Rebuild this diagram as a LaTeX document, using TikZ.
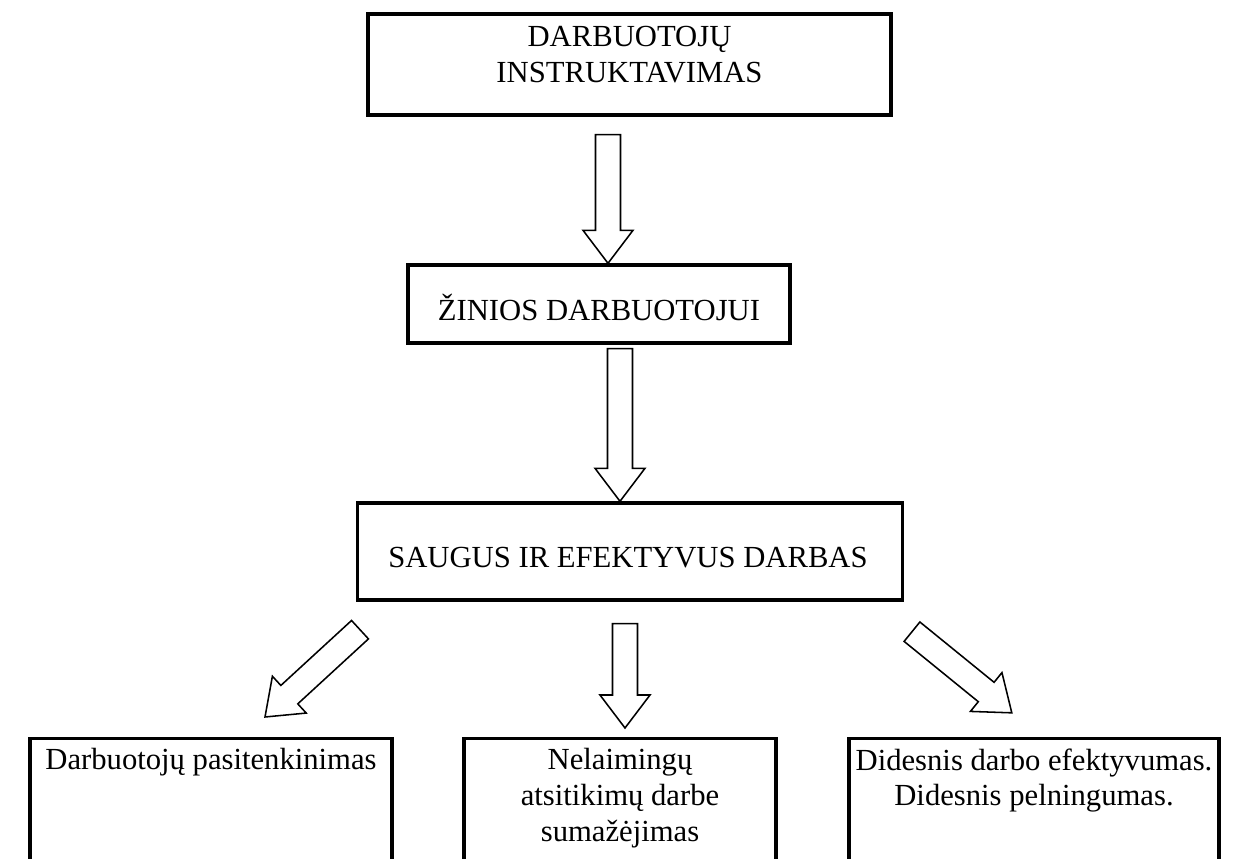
\documentclass[tikz,border=0pt]{standalone}
\usepackage{fontspec}
\setmainfont{Liberation Serif}
\usetikzlibrary{positioning,calc}

\tikzset{
	box/.style={draw,line width=2.4pt,minimum width=#1,inner sep=0pt},
	txt/.style={align=center,inner sep=0pt},
	hollow/.style={draw,line width=1.1pt,fill=white,line join=miter},
}

% hollow block arrow from #1 to #2
\newcommand{\blockarrow}[2]{%
	\path let \p1=(#1), \p2=(#2), \n1={atan2(\y2-\y1,\x2-\x1)}, \n2={veclen(\x2-\x1,\y2-\y1)} in
		[hollow,shift={(\p1)},rotate=\n1]
		(0,-0.3125cm) -- ({\n2-0.825cm},-0.3125cm) -- ({\n2-0.825cm},-0.625cm)
		-- ({\n2},0) -- ({\n2-0.825cm},0.625cm) -- ({\n2-0.825cm},0.3125cm)
		-- (0,0.3125cm) -- cycle;
}

\begin{document}
\begin{tikzpicture}[x=0.025cm,y=-0.025cm,font=\fontsize{21.8}{25.4}\selectfont]
	\useasboundingbox (0,0) rectangle (1259,859);

	\node[box=13.075cm,minimum height=2.525cm] (instr) at (629.5,64.5) {};
	\node[txt,below=0.35cm of instr.north] (instrtxt) {DARBUOTOJŲ\\INSTRUKTAVIMAS};

	\node[box=9.55cm,minimum height=1.95cm] (zinios) at (599,304) {};
	\node[txt] (ziniostxt) at ($(zinios.center)+(0,3)$) {ŽINIOS DARBUOTOJUI};
	\node[box=13.625cm,minimum height=2.425cm] (darbas) at (630,551.5) {};
	\node[txt] (darbastxt) at ($(darbas.center)+(-2,6.5)$) {SAUGUS IR EFEKTYVUS DARBAS};

	% open boxes at the bottom
	\node[box=9.05cm,minimum height=3.325cm,anchor=north] (pasit) at (211,737) {};
	\node[box=7.8cm,minimum height=3.325cm,anchor=north] (nelaim) at (620,737) {};
	\node[box=9.25cm,minimum height=3.325cm,anchor=north] (efekt) at (1034,737) {};
	\node[txt,below=0.28cm of pasit.north] (pasittxt) {Darbuotojų pasitenkinimas};
	\node[txt,below=0.28cm of nelaim.north] (nelaimtxt) {Nelaimingų\\atsitikimų darbe\\sumažėjimas};
	\node[txt,below=0.28cm of efekt.north] (efekttxt) {Didesnis darbo efektyvumas.\\Didesnis pelningumas.};

	\coordinate (a1s) at ($(instr.south)+(-21.5,18)$);
	\coordinate (a1e) at (a1s |- zinios.north);
	\coordinate (a2s) at ($(zinios.south)+(21,4)$);
	\coordinate (a2e) at (a2s |- darbas.north);
	\coordinate (a3s) at ($(darbas.south)+(-270,28)$);
	\coordinate (a3e) at ($(pasit.north)+(54,-20)$);
	\coordinate (a4s) at ($(darbas.south)+(-5,22)$);
	\coordinate (a4e) at ($(a4s |- nelaim.north)+(0,-9)$);
	\coordinate (a5s) at ($(darbas.south)+(282,30)$);
	\coordinate (a5e) at ($(efekt.north)+(-22,-24)$);

	\foreach \a in {1,...,5} {
		\blockarrow{a\a s}{a\a e}
	};
\end{tikzpicture}
\end{document}
